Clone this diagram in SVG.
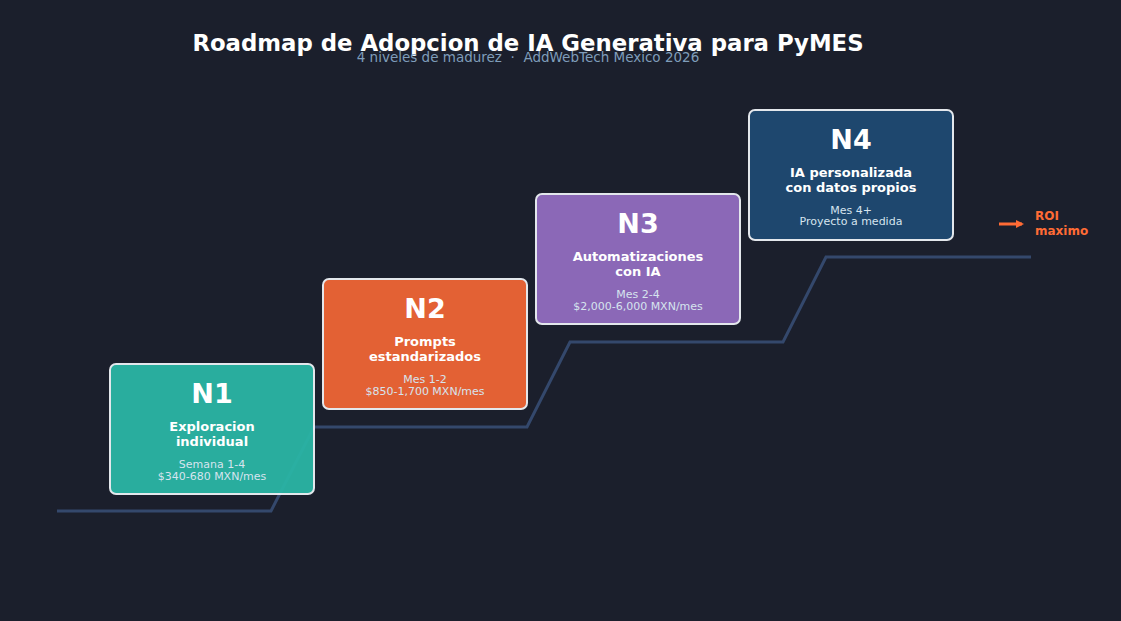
<svg xmlns="http://www.w3.org/2000/svg" width="1121" height="621" viewBox="0 0 1121 621">
<style>
text{font-family:"DejaVu Sans",sans-serif;text-anchor:middle}
.box{stroke:#eef2f7;stroke-width:2;opacity:0.95}
.lvl{font-size:27px;font-weight:bold;fill:#fff}
.t{font-size:13px;font-weight:bold;fill:#fff}
.s{font-size:11px;fill:#d6e4ee}
.roi{font-size:12px;font-weight:bold;fill:#ff6b35;text-anchor:start}
</style>
<defs><marker id="ah" markerWidth="8" markerHeight="8" refX="6" refY="4" orient="auto" markerUnits="userSpaceOnUse"><path d="M0,0 L8,4 L0,8 Z" fill="#ff6b35"/></marker></defs>
<rect width="1121" height="621" fill="#1b1f2c"/>
<text x="528" y="51" font-size="22.8" font-weight="bold" fill="#fff">Roadmap de Adopcion de IA Generativa para PyMES</text>
<text x="528" y="62" font-size="13.5" fill="#7f9dba" style="white-space:pre">4 niveles de madurez  ·  AddWebTech Mexico 2026</text>
<g id="connectors">
<polyline points="57,511 271,511 314,427 527,427 570,342 783,342 826,257 1031,257" fill="none" stroke="#34486c" stroke-width="3"/>
<line x1="999" y1="224" x2="1022" y2="224" stroke="#ff6b35" stroke-width="3" marker-end="url(#ah)"/>
</g>
<g id="n1"><rect class="box" x="110" y="364" width="204" height="130" rx="6" fill="#2ab5a5"/>
<text class="lvl" x="212" y="403">N1</text><text class="t" x="212" y="431">Exploracion</text><text class="t" x="212" y="446">individual</text>
<text class="s" x="212" y="468">Semana 1-4</text><text class="s" x="212" y="480">$340-680 MXN/mes</text></g>
<g id="n2"><rect class="box" x="323" y="279" width="204" height="130" rx="6" fill="#ee6535"/>
<text class="lvl" x="425" y="318">N2</text><text class="t" x="425" y="346">Prompts</text><text class="t" x="425" y="361">estandarizados</text>
<text class="s" x="425" y="383">Mes 1-2</text><text class="s" x="425" y="395">$850-1,700 MXN/mes</text></g>
<g id="n3"><rect class="box" x="536" y="194" width="204" height="130" rx="6" fill="#916cbf"/>
<text class="lvl" x="638" y="233">N3</text><text class="t" x="638" y="261">Automatizaciones</text><text class="t" x="638" y="276">con IA</text>
<text class="s" x="638" y="298">Mes 2-4</text><text class="s" x="638" y="310">$2,000-6,000 MXN/mes</text></g>
<g id="n4"><rect class="box" x="749" y="110" width="204" height="130" rx="6" fill="#1f4a72"/>
<text class="lvl" x="851" y="149">N4</text><text class="t" x="851" y="177">IA personalizada</text><text class="t" x="851" y="192">con datos propios</text>
<text class="s" x="851" y="214">Mes 4+</text><text class="s" x="851" y="225">Proyecto a medida</text></g>
<g id="roi"><text class="roi" x="1035" y="220">ROI</text>
<text class="roi" x="1035" y="235">maximo</text></g>
</svg>
